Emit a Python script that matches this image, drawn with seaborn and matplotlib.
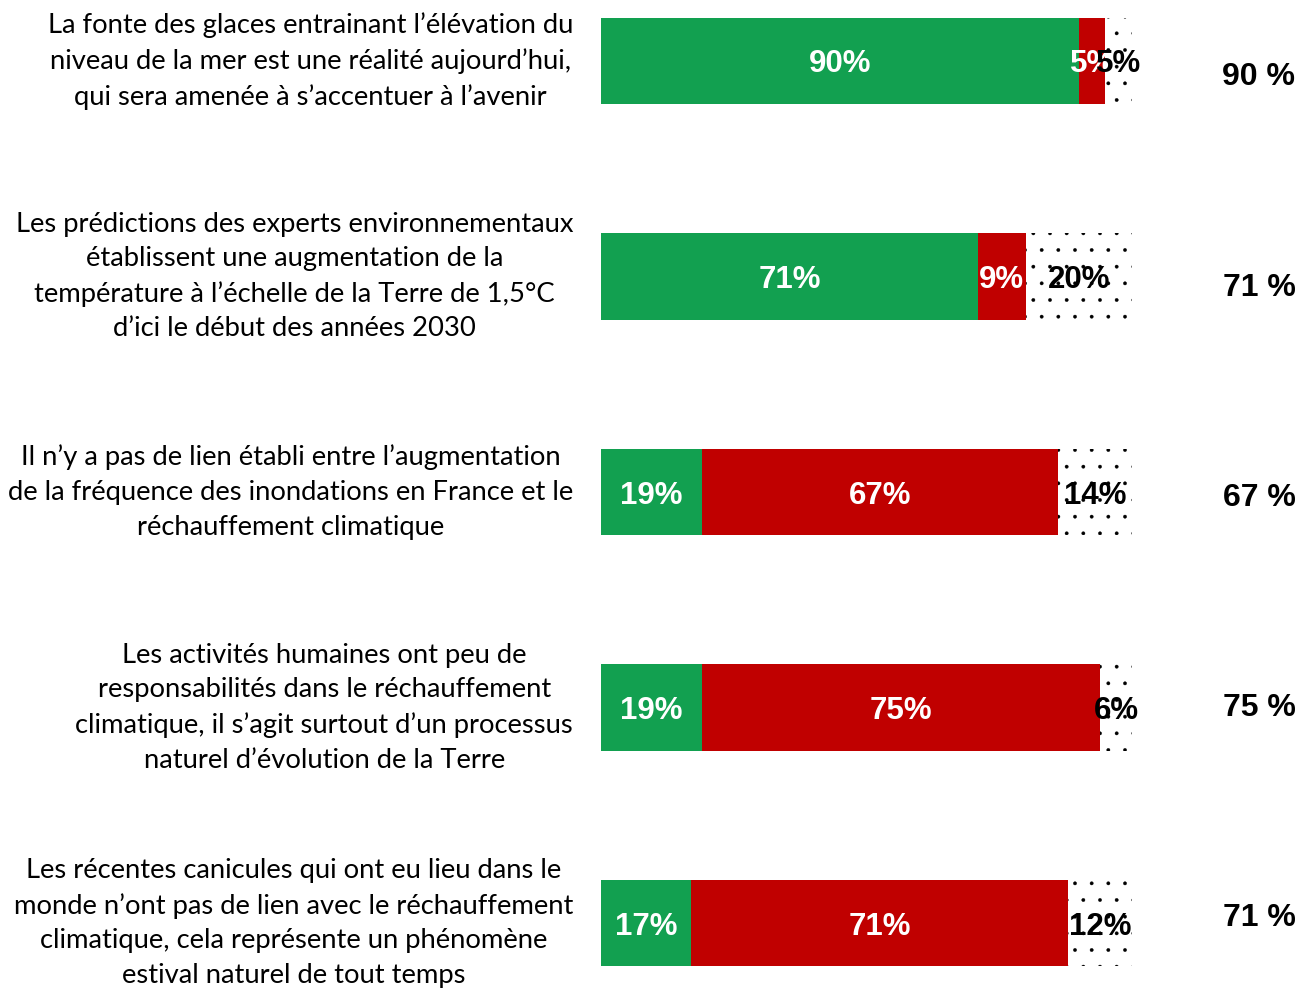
import pandas as pd
import numpy as np
import seaborn as sns
import matplotlib.pyplot as plt

# donnees
questions = [
    "La fonte des glaces entrainant l’élévation du\nniveau de la mer est une réalité aujourd’hui,\nqui sera amenée à s’accentuer à l’avenir",
    "Les prédictions des experts environnementaux\nétablissent une augmentation de la\ntempérature à l’échelle de la Terre de 1,5°C\nd’ici le début des années 2030",
    "Il n’y a pas de lien établi entre l’augmentation\nde la fréquence des inondations en France et le\nréchauffement climatique",
    "Les activités humaines ont peu de\nresponsabilités dans le réchauffement\nclimatique, il s’agit surtout d’un processus\nnaturel d’évolution de la Terre",
    "Les récentes canicules qui ont eu lieu dans le\nmonde n’ont pas de lien avec le réchauffement\nclimatique, cela représente un phénomène\nestival naturel de tout temps",
]
vrai = [90, 71, 19, 19, 17]
faux = [5, 9, 67, 75, 71]
nsp = [5, 20, 14, 6, 12]

df = pd.DataFrame({"question": questions, "vrai": vrai, "faux": faux, "nsp": nsp})
df["cum2"] = df["vrai"] + df["faux"]
df["cum3"] = df["cum2"] + df["nsp"]

GREEN = "#12A050"
RED = "#C00000"

sns.set_style("white")
plt.rcParams["font.family"] = ["Lato", "DejaVu Sans"]
plt.rcParams["hatch.color"] = "black"
plt.rcParams["hatch.linewidth"] = 0.25

fig = plt.figure(figsize=(12.99, 9.89), dpi=100)
ax = fig.add_axes([601 / 1299, 0, 531 / 1299, 1])

# barres cumulees, de la plus longue a la plus courte
sns.barplot(data=df, x="cum3", y="question", color="white", edgecolor="black",
            linewidth=0, hatch=".", width=0.4, saturation=1, errorbar=None, ax=ax)
sns.barplot(data=df, x="cum2", y="question", color=RED, linewidth=0,
            width=0.4, saturation=1, errorbar=None, ax=ax)
sns.barplot(data=df, x="vrai", y="question", color=GREEN, linewidth=0,
            width=0.4, saturation=1, errorbar=None, ax=ax)

lab = dict(ha="center", va="center_baseline", fontweight="bold", family="Liberation Sans")
for i, r in df.iterrows():
    ax.text(r["vrai"] / 2, i, f"{r['vrai']}%", color="white", fontsize=22.5, **lab)
    ax.text(r["vrai"] + r["faux"] / 2, i, f"{r['faux']}%", color="white", fontsize=22.5, **lab)
    ax.text(r["cum2"] + r["nsp"] / 2, i, f"{r['nsp']}%", color="black", fontsize=22.5, **lab)

# total a droite
totaux = np.maximum(df["vrai"], df["faux"])
for i, t in enumerate(totaux):
    fig.text(1259 / 1299, 1 - (74 + 210 * i) / 989, f"{t} %", color="black",
             fontsize=23, **lab)

ax.set_xlim(0, 100)
ax.set_ylim(4.306, -0.283)
ax.set_xlabel("")
ax.set_ylabel("")
ax.set_xticks([])
sns.despine(ax=ax, left=True, bottom=True)
ax.tick_params(axis="y", length=0, pad=20)
for t in ax.get_yticklabels():
    t.set_fontsize(19.7)
    t.set_multialignment("center")
    t.set_linespacing(1.48)
    t.set_va("center")
    t.set_color("black")

fig.savefig("out.png", dpi=100)
